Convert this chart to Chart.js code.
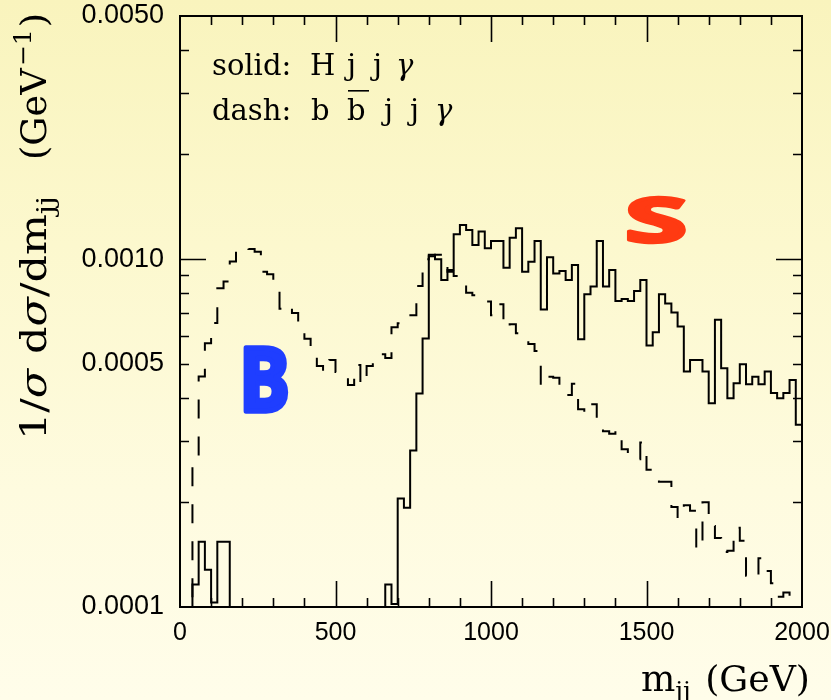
<!DOCTYPE html>
<html>
<head>
<meta charset="utf-8">
<title>m_jj distributions</title>
<script src="https://cdn.jsdelivr.net/npm/chart.js@4/dist/chart.umd.min.js"></script>
<style>
  html, body { margin: 0; padding: 0; background: #fdfad8; }
  canvas { display: block; }
</style>
</head>
<body>
<canvas id="mjj" width="831" height="700"></canvas>
<script>
// Di-jet invariant mass binning (GeV): 100 bins of 20 GeV from 0 to 2000
const BIN_WIDTH = 20;
const N_BINS = 100;
const MJJ_EDGES = Array.from({ length: N_BINS + 1 }, (_, i) => i * BIN_WIDTH);

// 1/sigma dsigma/dm_jj (GeV^-1) per bin; 0 = empty bin
// solid: H j j gamma
const SIGNAL_HJJA = [
  0, 0, 0.000116, 0.000154, 0.000128, 0.000103, 0.000154, 0.000154, 0, 0,
  0, 0, 0, 0, 0, 0, 0, 0, 0, 0,
  0, 0, 0, 0, 0, 0, 0, 0, 0, 0,
  0, 0, 0, 0.000116, 0.000102, 0.000205, 0.000193, 0.000282, 0.000411, 0.000591,
  0.001030, 0.001000, 0.000871, 0.000931, 0.001179, 0.001254, 0.001213, 0.001098, 0.001200, 0.001074,
  0.001128, 0.001128, 0.000945, 0.001153, 0.001227, 0.000920, 0.000983, 0.001128, 0.000717, 0.001012,
  0.000910, 0.000925, 0.000871, 0.000962, 0.000588, 0.000792, 0.000834, 0.001128, 0.000834, 0.000931,
  0.000758, 0.000768, 0.000758, 0.000810, 0.000871, 0.000565, 0.000616, 0.000792, 0.000746, 0.000703,
  0.000640, 0.000475, 0.000513, 0.000513, 0.000475, 0.000385, 0.000669, 0.000486, 0.000398, 0.000440,
  0.000499, 0.000437, 0.000459, 0.000437, 0.000475, 0.000412, 0.000398, 0.000412, 0.000449, 0.000334
];
// dash: b bbar j j gamma
const BACKGROUND_BBJJA = [
  0, 0, 0.000256, 0.000460, 0.000573, 0.000655, 0.000825, 0.000863, 0.000985, 0.001080,
  0.001080, 0.001070, 0.001050, 0.000920, 0.000905, 0.000840, 0.000720, 0.000738, 0.000700, 0.000635,
  0.000590, 0.000560, 0.000493, 0.000476, 0.000513, 0.000474, 0.000472, 0.000435, 0.000496, 0.000435,
  0.000493, 0.000517, 0.000533, 0.000520, 0.000637, 0.000654, 0.000690, 0.000690, 0.000837, 0.001000,
  0.001020, 0.001030, 0.001030, 0.000920, 0.000895, 0.000878, 0.000801, 0.000787, 0.000778, 0.000756,
  0.000690, 0.000742, 0.000633, 0.000650, 0.000612, 0.000586, 0.000570, 0.000544, 0.000432, 0.000459,
  0.000456, 0.000433, 0.000407, 0.000438, 0.000370, 0.000360, 0.000383, 0.000346, 0.000320, 0.000315,
  0.000323, 0.000284, 0.000273, 0.000266, 0.000297, 0.000248, 0.000236, 0.000229, 0.000229, 0.000194,
  0.000180, 0.000196, 0.000189, 0.000146, 0.000200, 0.000171, 0.000158, 0.000144, 0.000145, 0.000169,
  0.000155, 0.000123, 0.000121, 0.000138, 0.000127, 0.000117, 0.000107, 0.000110, 0, 0
];

// Axis ticks
const X_TICK_LABELS = [0, 500, 1000, 1500, 2000];
const X_MAJOR_TICKS = [500, 1000, 1500];
const X_MINOR_TICKS = [100, 200, 300, 400, 600, 700, 800, 900, 1100, 1200, 1300, 1400, 1600, 1700, 1800, 1900];
const Y_TICK_LABELS = [0.0001, 0.0005, 0.0010, 0.0050];
const Y_MAJOR_TICKS = [0.0010];
const Y_MINOR_TICKS = [0.0002, 0.0003, 0.0004, 0.0005, 0.0006, 0.0007, 0.0008, 0.0009, 0.002, 0.003, 0.004];
const Y_MIN = 0.0001;
const Y_MAX = 0.0050;

// Step outline of a histogram: one point per left bin edge plus the closing edge.
// Empty bins are sent below the axis so the outline drops onto it.
function histogramPoints(values) {
  const under = Y_MIN / 10;
  const pts = values.map((v, i) => ({ x: MJJ_EDGES[i], y: v > 0 ? v : under }));
  pts.push({ x: MJJ_EDGES[N_BINS], y: pts[N_BINS - 1].y });
  return pts;
}

const SERIF = '"DejaVu Serif", "Liberation Serif", serif';
const SANS = '"Liberation Sans", Arial, sans-serif';

function runsWidth(ctx, runs) {
  let w = 0;
  for (const r of runs) { ctx.font = r.font; w += ctx.measureText(r.text).width + (r.gap || 0); }
  return w;
}
// Draws a row of differently styled text pieces, stretched along the row to the given width.
function drawRuns(ctx, runs, x, y, width) {
  const natural = runsWidth(ctx, runs);
  const sx = width ? width / natural : 1;
  ctx.save();
  ctx.translate(x, y);
  ctx.scale(sx, 1);
  let cx = 0;
  for (const r of runs) {
    ctx.font = r.font;
    ctx.fillText(r.text, cx, r.dy || 0);
    cx += ctx.measureText(r.text).width + (r.gap || 0);
  }
  ctx.restore();
}
// Draws one glyph, filled and outlined with a round pen, so its ink fills the box.
function drawGlyphInBox(ctx, text, font, color, pen, x0, x1, yTop, yBottom) {
  ctx.save();
  ctx.font = font;
  const m = ctx.measureText(text);
  const inkW = m.actualBoundingBoxLeft + m.actualBoundingBoxRight;
  const inkH = m.actualBoundingBoxAscent + m.actualBoundingBoxDescent;
  const sx = (x1 - x0 - pen) / inkW, sy = (yBottom - yTop - pen) / inkH;
  ctx.translate(x0 + pen / 2, yTop + pen / 2);
  ctx.scale(sx, sy);
  ctx.fillStyle = color;
  ctx.strokeStyle = color;
  ctx.lineJoin = 'round';
  ctx.lineCap = 'round';
  ctx.lineWidth = pen / ((sx + sy) / 2);
  ctx.textBaseline = 'alphabetic';
  ctx.fillText(text, m.actualBoundingBoxLeft, m.actualBoundingBoxAscent);
  ctx.strokeText(text, m.actualBoundingBoxLeft, m.actualBoundingBoxAscent);
  ctx.restore();
}

const backdrop = {
  id: 'backdrop',
  beforeDraw(chart) {
    const { ctx, width, height } = chart;
    const g = ctx.createLinearGradient(0, 0, 0, height);
    g.addColorStop(0, '#f9f4bd');
    g.addColorStop(0.35, '#fcf8ce');
    g.addColorStop(0.7, '#fefbdf');
    g.addColorStop(1, '#fffdea');
    ctx.save();
    ctx.fillStyle = g;
    ctx.fillRect(0, 0, width, height);
    ctx.restore();
  }
};

// Frame with inward tick marks on all four sides
const frameTicks = {
  id: 'frameTicks',
  afterDatasetsDraw(chart) {
    const { ctx, chartArea: a, scales: { x, y } } = chart;
    ctx.save();
    ctx.strokeStyle = '#000';
    ctx.lineCap = 'butt';
    ctx.lineWidth = 1.6;
    ctx.beginPath();
    const vTick = (v, len) => {
      const px = Math.round(x.getPixelForValue(v)) + 0.5;
      ctx.moveTo(px, a.bottom); ctx.lineTo(px, a.bottom - len);
      ctx.moveTo(px, a.top); ctx.lineTo(px, a.top + len);
    };
    const hTick = (v, len) => {
      const py = Math.round(y.getPixelForValue(v)) + 0.5;
      ctx.moveTo(a.left, py); ctx.lineTo(a.left + len, py);
      ctx.moveTo(a.right, py); ctx.lineTo(a.right - len, py);
    };
    X_MINOR_TICKS.forEach(v => vTick(v, 9));
    X_MAJOR_TICKS.forEach(v => vTick(v, 26));
    Y_MINOR_TICKS.forEach(v => hTick(v, 9));
    Y_MAJOR_TICKS.forEach(v => hTick(v, 26));
    ctx.stroke();
    ctx.lineWidth = 2;
    ctx.strokeRect(a.left, a.top, a.right - a.left, a.bottom - a.top);
    ctx.restore();
  }
};

// Axis titles, line-style key and the B / S markers
const annotations = {
  id: 'annotations',
  afterDraw(chart) {
    const { ctx, chartArea: a, scales: { x, y } } = chart;
    ctx.save();
    ctx.fillStyle = '#000';
    ctx.textBaseline = 'alphabetic';

    const R = '35px ' + SERIF, I = 'italic 35px ' + SERIF, SM = '24px ' + SERIF;

    // y title, read bottom to top
    ctx.save();
    ctx.translate(46, 440);
    ctx.rotate(-Math.PI / 2);
    drawRuns(ctx, [
      { text: '1/', font: R },
      { text: 'σ', font: I, gap: 12 },
      { text: 'd', font: R },
      { text: 'σ', font: I },
      { text: '/dm', font: R },
      { text: 'jj', font: SM, dy: 8 }
    ], 0, 0, 244);
    drawRuns(ctx, [
      { text: '(GeV', font: R, gap: 2 },
      { text: '−1', font: SM, dy: -15, gap: 2 },
      { text: ')', font: R }
    ], 280, 0, 147);
    ctx.restore();

    // x title
    drawRuns(ctx, [
      { text: 'm', font: R },
      { text: 'jj', font: SM, dy: 8, gap: 14 },
      { text: '(GeV)', font: R }
    ], 641, 691, 169);

    // key
    const K = '29px ' + SERIF, KI = 'italic 29px ' + SERIF;
    const rows = [
      { base: 59, items: [['solid:', 32, K], ['H', 130, K], ['j', 167, K], ['j', 193, K], ['γ', 216, KI]] },
      { base: 104, items: [['dash:', 32, K], ['b', 131, K], ['b', 167, K], ['j', 204, K], ['j', 230, K], ['γ', 255, KI]] }
    ];
    rows.forEach(row => row.items.forEach(([t, dx, f]) => {
      ctx.font = f;
      ctx.fillText(t, a.left + dx, a.top + row.base);
    }));
    ctx.fillRect(a.left + 168, a.top + 74, 21, 1.6); // bar over b

    // process markers, boxed in data coordinates
    const markerFont = 'bold 100px "Noto Sans", "DejaVu Sans", sans-serif';
    drawGlyphInBox(ctx, 'B', markerFont, '#1f3eff', 5,
      x.getPixelForValue(203), x.getPixelForValue(350), y.getPixelForValue(5.67e-4), y.getPixelForValue(3.61e-4));
    drawGlyphInBox(ctx, 'S', markerFont, '#ff3a12', 5,
      x.getPixelForValue(1437), x.getPixelForValue(1627), y.getPixelForValue(1.53e-3), y.getPixelForValue(1.10e-3));
    ctx.restore();
  }
};

new Chart(document.getElementById('mjj'), {
  type: 'line',
  data: {
    datasets: [
      {
        label: 'H j j γ',
        data: histogramPoints(SIGNAL_HJJA),
        borderColor: '#000',
        borderWidth: 2,
        stepped: 'before',
        pointRadius: 0,
        fill: false
      },
      {
        label: 'b b̄ j j γ',
        data: histogramPoints(BACKGROUND_BBJJA),
        borderColor: '#000',
        borderWidth: 2,
        borderDash: [19, 18],
        stepped: 'before',
        pointRadius: 0,
        fill: false
      }
    ]
  },
  options: {
    responsive: false,
    animation: false,
    devicePixelRatio: 1,
    layout: { padding: { top: 16, right: 29, left: 0, bottom: 0 } },
    plugins: { legend: { display: false }, tooltip: { enabled: false } },
    scales: {
      x: {
        type: 'linear',
        position: 'bottom',
        min: 0,
        max: 2000,
        afterBuildTicks: s => { s.ticks = X_TICK_LABELS.map(v => ({ value: v })); },
        afterFit: s => { s.height = 93; s.paddingLeft = 0; s.paddingRight = 0; },
        grid: { display: false, drawTicks: false },
        border: { display: false },
        ticks: {
          autoSkip: false,
          maxRotation: 0,
          padding: 11,
          color: '#000',
          font: { family: SANS, size: 25 },
          callback: v => String(v)
        }
      },
      y: {
        type: 'logarithmic',
        position: 'left',
        min: Y_MIN,
        max: Y_MAX,
        afterBuildTicks: s => { s.ticks = Y_TICK_LABELS.map(v => ({ value: v })); },
        afterFit: s => { s.width = 180; s.paddingTop = 0; s.paddingBottom = 0; },
        grid: { display: false, drawTicks: false },
        border: { display: false },
        ticks: {
          autoSkip: false,
          padding: 16,
          color: '#000',
          font: { family: SANS, size: 27 },
          callback: v => Number(v).toFixed(4)
        }
      }
    }
  },
  plugins: [backdrop, frameTicks, annotations]
});
</script>
</body>
</html>
